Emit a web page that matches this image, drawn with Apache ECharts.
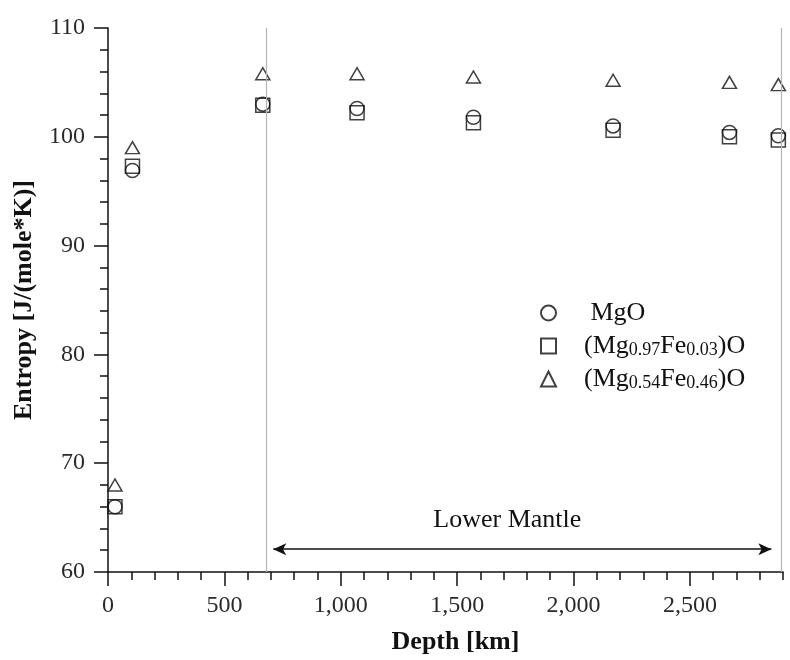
<!DOCTYPE html>
<html>
<head>
<meta charset="utf-8">
<script src="https://cdn.jsdelivr.net/npm/echarts@6/dist/echarts.min.js"></script>
<style>
  html, body { margin: 0; padding: 0; background: #fff; }
  #chart { width: 790px; height: 660px; }
</style>
</head>
<body>
<div id="chart"></div>
<script>
// Depth (km) of each sample and its molar entropy, J/(mole*K)
const depths = [30, 105, 665, 1070, 1570, 2170, 2670, 2880];
const mgO = [66.0, 96.9, 103.0, 102.6, 101.8, 101.0, 100.4, 100.1];
const mg97fe03 = [66.0, 97.3, 102.9, 102.2, 101.3, 100.6, 100.0, 99.7];
const mg54fe46 = [68.0, 99.0, 105.8, 105.8, 105.5, 105.2, 105.0, 104.8];

// Axis settings
const xMin = 0, xMax = 2900, xMajor = 500, xMinor = 100;
const yMin = 60, yMax = 110, yMajor = 10;

// Lower mantle: boundaries and the span of the arrow
const mantleTop = 680, mantleBottom = 2891;
const arrowFrom = 710, arrowTo = 2850, arrowLevel = 62.1;

const serif = '"Liberation Serif", "Times New Roman", serif';
const ink = '#111';
const labelInk = '#2a2a2a';

const pairs = (ys) => depths.map((d, i) => [d, ys[i]]);

// Legend text: regular run plus lowered subscript run
const legendRich = {
  n: { fontFamily: serif, fontSize: 26, color: ink, lineHeight: 26, verticalAlign: 'middle' },
  s: { fontFamily: serif, fontSize: 18, color: ink, lineHeight: 11, verticalAlign: 'bottom' }
};

const names = {
  mgo: 'MgO',
  fe03: '(Mg0.97Fe0.03)O',
  fe46: '(Mg0.54Fe0.46)O'
};
const legendText = {
  'MgO': '{n| MgO}',
  '(Mg0.97Fe0.03)O': '{n|(Mg}{s|0.97}{n|Fe}{s|0.03}{n|)O}',
  '(Mg0.54Fe0.46)O': '{n|(Mg}{s|0.54}{n|Fe}{s|0.46}{n|)O}'
};

// Hollow outline markers, so overlapping symbols stay visible
const markerStyle = { color: 'rgba(0,0,0,0)', borderColor: ink, borderWidth: 1.5 };

const chart = echarts.init(document.getElementById('chart'), null, { renderer: 'canvas' });

chart.setOption({
  backgroundColor: '#fff',
  animation: false,
  grid: { left: 108, right: 7, top: 28, bottom: 87, containLabel: false },
  legend: {
    orient: 'vertical',
    left: 535,
    top: 295,
    itemWidth: 15,
    itemHeight: 15,
    itemGap: 7,
    inactiveColor: '#ccc',
    formatter: (name) => legendText[name],
    textStyle: { rich: legendRich, padding: [0, 0, 0, 23] },
    data: [
      { name: names.mgo, icon: 'circle' },
      { name: names.fe03, icon: 'rect' },
      { name: names.fe46, icon: 'triangle' }
    ]
  },
  xAxis: [
    {
      type: 'value',
      position: 'bottom',
      min: xMin, max: xMax, interval: xMajor,
      name: 'Depth [km]',
      nameLocation: 'middle',
      nameGap: 57,
      nameTextStyle: { fontFamily: serif, fontSize: 26, fontWeight: 'bold', color: ink, padding: [0, 0, 0, 20] },
      axisLine: { lineStyle: { color: ink, width: 1.5 } },
      axisTick: { length: 14, lineStyle: { color: ink, width: 1.5 } },
      axisLabel: {
        margin: 22, fontFamily: serif, fontSize: 24, color: labelInk,
        showMaxLabel: false,
        formatter: (v) => v.toLocaleString('en-US')
      },
      splitLine: { show: false }
    },
    {
      type: 'value',
      position: 'bottom',
      min: xMin, max: xMax, interval: xMinor,
      axisLine: { show: false },
      axisTick: { length: 8, lineStyle: { color: ink, width: 1.5 } },
      axisLabel: { show: false },
      splitLine: { show: false }
    }
  ],
  yAxis: {
    type: 'value',
    min: yMin, max: yMax, interval: yMajor,
    name: 'Entropy [J/(mole*K)]',
    nameLocation: 'middle',
    nameGap: 71,
    nameTextStyle: { fontFamily: serif, fontSize: 26, fontWeight: 'bold', color: ink },
    axisLine: { show: true, lineStyle: { color: ink, width: 1.5 } },
    axisTick: { length: 14, lineStyle: { color: ink, width: 1.5 } },
    minorTick: { show: true, splitNumber: 5, length: 8, lineStyle: { color: ink, width: 1.5 } },
    axisLabel: { margin: 23, fontFamily: serif, fontSize: 24, color: labelInk },
    splitLine: { show: false }
  },
  series: [
    {
      name: names.mgo,
      type: 'scatter',
      symbol: 'circle',
      symbolSize: 14,
      itemStyle: markerStyle,
      data: pairs(mgO),
      markLine: {
        silent: true,
        symbol: 'none',
        label: { show: false },
        lineStyle: { color: '#b4b4b4', width: 1.2, type: 'solid' },
        data: [{ xAxis: mantleTop }, { xAxis: mantleBottom }]
      }
    },
    {
      name: names.fe03,
      type: 'scatter',
      symbol: 'rect',
      symbolSize: 14,
      itemStyle: markerStyle,
      data: pairs(mg97fe03),
      markLine: {
        silent: true,
        symbol: ['arrow', 'arrow'],
        symbolSize: [9, 13],
        lineStyle: { color: ink, width: 1.5, type: 'solid' },
        label: {
          show: true,
          position: 'middle',
          distance: 16,
          offset: [-15, 0],
          formatter: 'Lower Mantle',
          fontFamily: serif, fontSize: 26, color: ink
        },
        data: [[
          { coord: [arrowFrom, arrowLevel] },
          { coord: [arrowTo, arrowLevel] }
        ]]
      }
    },
    {
      name: names.fe46,
      type: 'scatter',
      symbol: 'triangle',
      symbolSize: [14, 12],
      itemStyle: markerStyle,
      data: pairs(mg54fe46)
    }
  ]
});
</script>
</body>
</html>
